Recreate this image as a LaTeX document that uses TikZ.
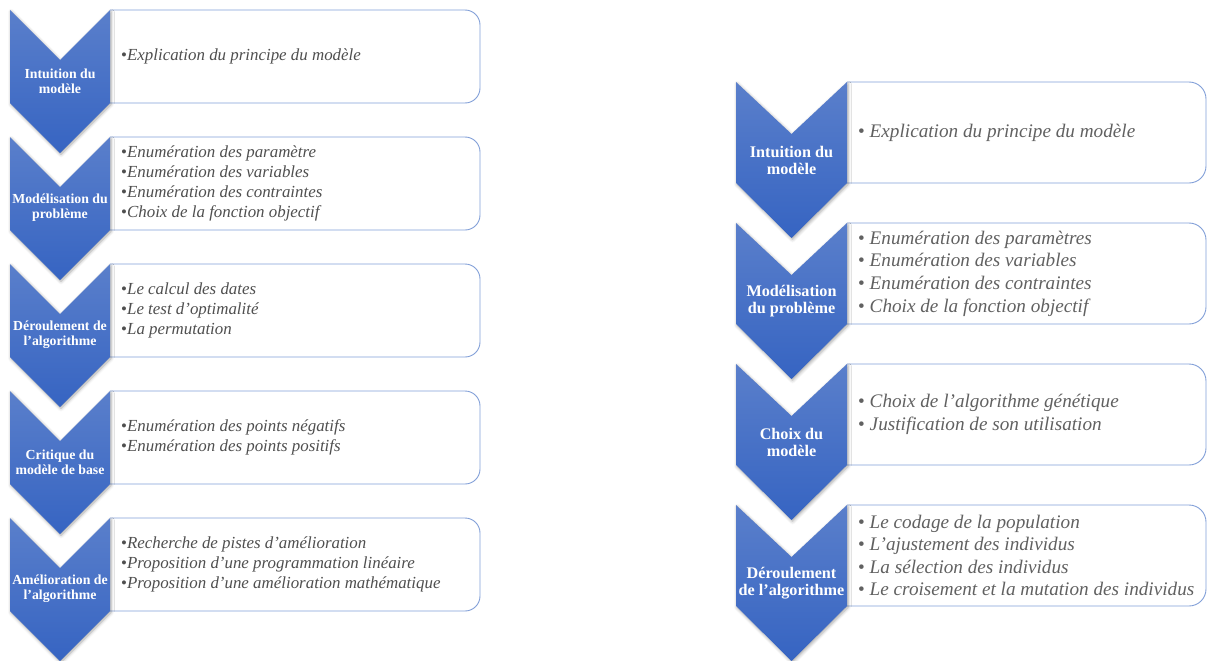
\documentclass[tikz,border=0pt]{standalone}
\usepackage{fontspec}
\setmainfont{Liberation Serif}
\usetikzlibrary{shadows.blur}

\definecolor{chevtop}{HTML}{5A7FCB}
\definecolor{chevbot}{HTML}{3664C2}
\definecolor{boxedge}{HTML}{819FD8}
\definecolor{itemgray}{HTML}{4F4F4F}

% chevron: left x, top y, width, notch depth, side length, tip depth
\newcommand\chevronpath[6]{%
  \path[chevron] (#1,#2) -- ({#1+#3/2},{#2+#4}) -- ({#1+#3},#2)
    -- ({#1+#3},{#2+#5}) -- ({#1+#3/2},{#2+#6}) -- (#1,{#2+#5}) -- cycle;}

\tikzset{
  chevron/.style={top color=chevtop, bottom color=chevbot, draw=none,
    blur shadow={shadow xshift=1pt, shadow yshift=-1.5pt,
      shadow blur radius=3pt, shadow opacity=35}},
  chevL/.style={text=white, inner sep=0pt, align=center,
    font=\fontsize{13.8}{15}\selectfont\bfseries},
  chevR/.style={text=white, inner sep=0pt, align=center,
    font=\fontsize{16.2}{17}\selectfont\bfseries},
  frameL/.style={anchor=north west, draw=none, inner sep=0pt, outer sep=0pt,
    minimum width=370pt, minimum height=93pt},
  frameR/.style={anchor=north west, draw=none, inner sep=0pt, outer sep=0pt,
    minimum width=359pt, minimum height=101pt},
  itemsL/.style={anchor=west, inner sep=0pt, align=left, text=itemgray,
    font=\fontsize{16.9}{20}\selectfont\itshape},
  itemsR/.style={anchor=west, inner sep=0pt, align=left, text=itemgray!90!white,
    font=\fontsize{19.2}{22.6}\selectfont\itshape},
  edgeL/.style={draw=boxedge, line width=0.9pt, fill=white, rounded corners=15pt},
  edgeR/.style={draw=boxedge, line width=0.9pt, fill=white, rounded corners=17pt},
}
\newcommand\bl{{\upshape•}}
\newcommand\br{{\upshape•} }

\begin{document}
\begin{tikzpicture}[x=1pt, y=-1pt]
\useasboundingbox (0,0) rectangle (1207,661);

% ---------- box frames ----------
\node[frameL] (L1) at (110,10) {};
\node[frameL] (L2) at (110,137) {};
\node[frameL] (L3) at (110,264) {};
\node[frameL] (L4) at (110,391) {};
\node[frameL] (L5) at (110,518) {};
\node[frameR] (R1) at (847,82) {};
\node[frameR] (R2) at (847,223) {};
\node[frameR] (R3) at (847,364) {};
\node[frameR] (R4) at (847,505) {};

% outlines rounded on the right; the left side sits under the chevrons
\foreach \b in {L1,L2,L3,L4,L5}
  \draw[edgeL] (\b.north west) -- (\b.north east) -- (\b.south east) -- (\b.south west);
\foreach \b in {R1,R2,R3,R4}
  \draw[edgeR] (\b.north west) -- (\b.north east) -- (\b.south east) -- (\b.south west);

% ---------- left column items ----------
\node[itemsL] (tL1) at ([xshift=11pt]L1.west) {\bl Explication du principe du modèle};
\node[itemsL] (tL2) at ([xshift=11pt]L2.west) {\bl Enumération des paramètre\\\bl Enumération des variables\\\bl Enumération des contraintes\\\bl Choix de la fonction objectif};
\node[itemsL] (tL3) at ([xshift=11pt]L3.west) {\bl Le calcul des dates\\\bl Le test d’optimalité\\\bl La permutation};
\node[itemsL] (tL4) at ([xshift=11pt]L4.west) {\bl Enumération des points négatifs\\\bl Enumération des points positifs};
\node[itemsL] (tL5) at ([xshift=11pt]L5.west) {\bl Recherche de pistes d’amélioration\\\bl Proposition d’une programmation linéaire\\\bl Proposition d’une amélioration mathématique};

% ---------- right column items ----------
\node[itemsR] (tR1) at ([xshift=11pt]R1.west) {\br Explication du principe du modèle};
\node[itemsR] (tR2) at ([xshift=11pt]R2.west) {\br Enumération des paramètres\\\br Enumération des variables\\\br Enumération des contraintes\\\br Choix de la fonction objectif};
\node[itemsR] (tR3) at ([xshift=11pt]R3.west) {\br Choix de l’algorithme génétique\\\br Justification de son utilisation};
\node[itemsR] (tR4) at ([xshift=11pt]R4.west) {\br Le codage de la population\\\br L’ajustement des individus\\\br La sélection des individus\\\br Le croisement et la mutation des individus};

% ---------- chevrons ----------
\foreach \t in {10,137,264,391,518}
  \chevronpath{10}{\t}{100}{50}{93}{143};
\foreach \t in {82,223,364,505}
  \chevronpath{736}{\t}{111}{52}{101}{156};

\node[chevL] (cL1) at (60,81) {Intuition du\\modèle};
\node[chevL] (cL2) at (60,208) {Modélisation du\\problème};
\node[chevL] (cL3) at (60,335) {Déroulement de\\l’algorithme};
\node[chevL] (cL4) at (60,462) {Critique du\\modèle de base};
\node[chevL] (cL5) at (60,589) {Amélioration de\\l’algorithme};

\node[chevR] (cR1) at (791.5,160) {Intuition du\\modèle};
\node[chevR] (cR2) at (791.5,301) {Modélisation\\du problème};
\node[chevR] (cR3) at (791.5,442) {Choix du\\modèle};
\node[chevR] (cR4) at (791.5,583) {Déroulement\\de l’algorithme};
\end{tikzpicture}
\end{document}
